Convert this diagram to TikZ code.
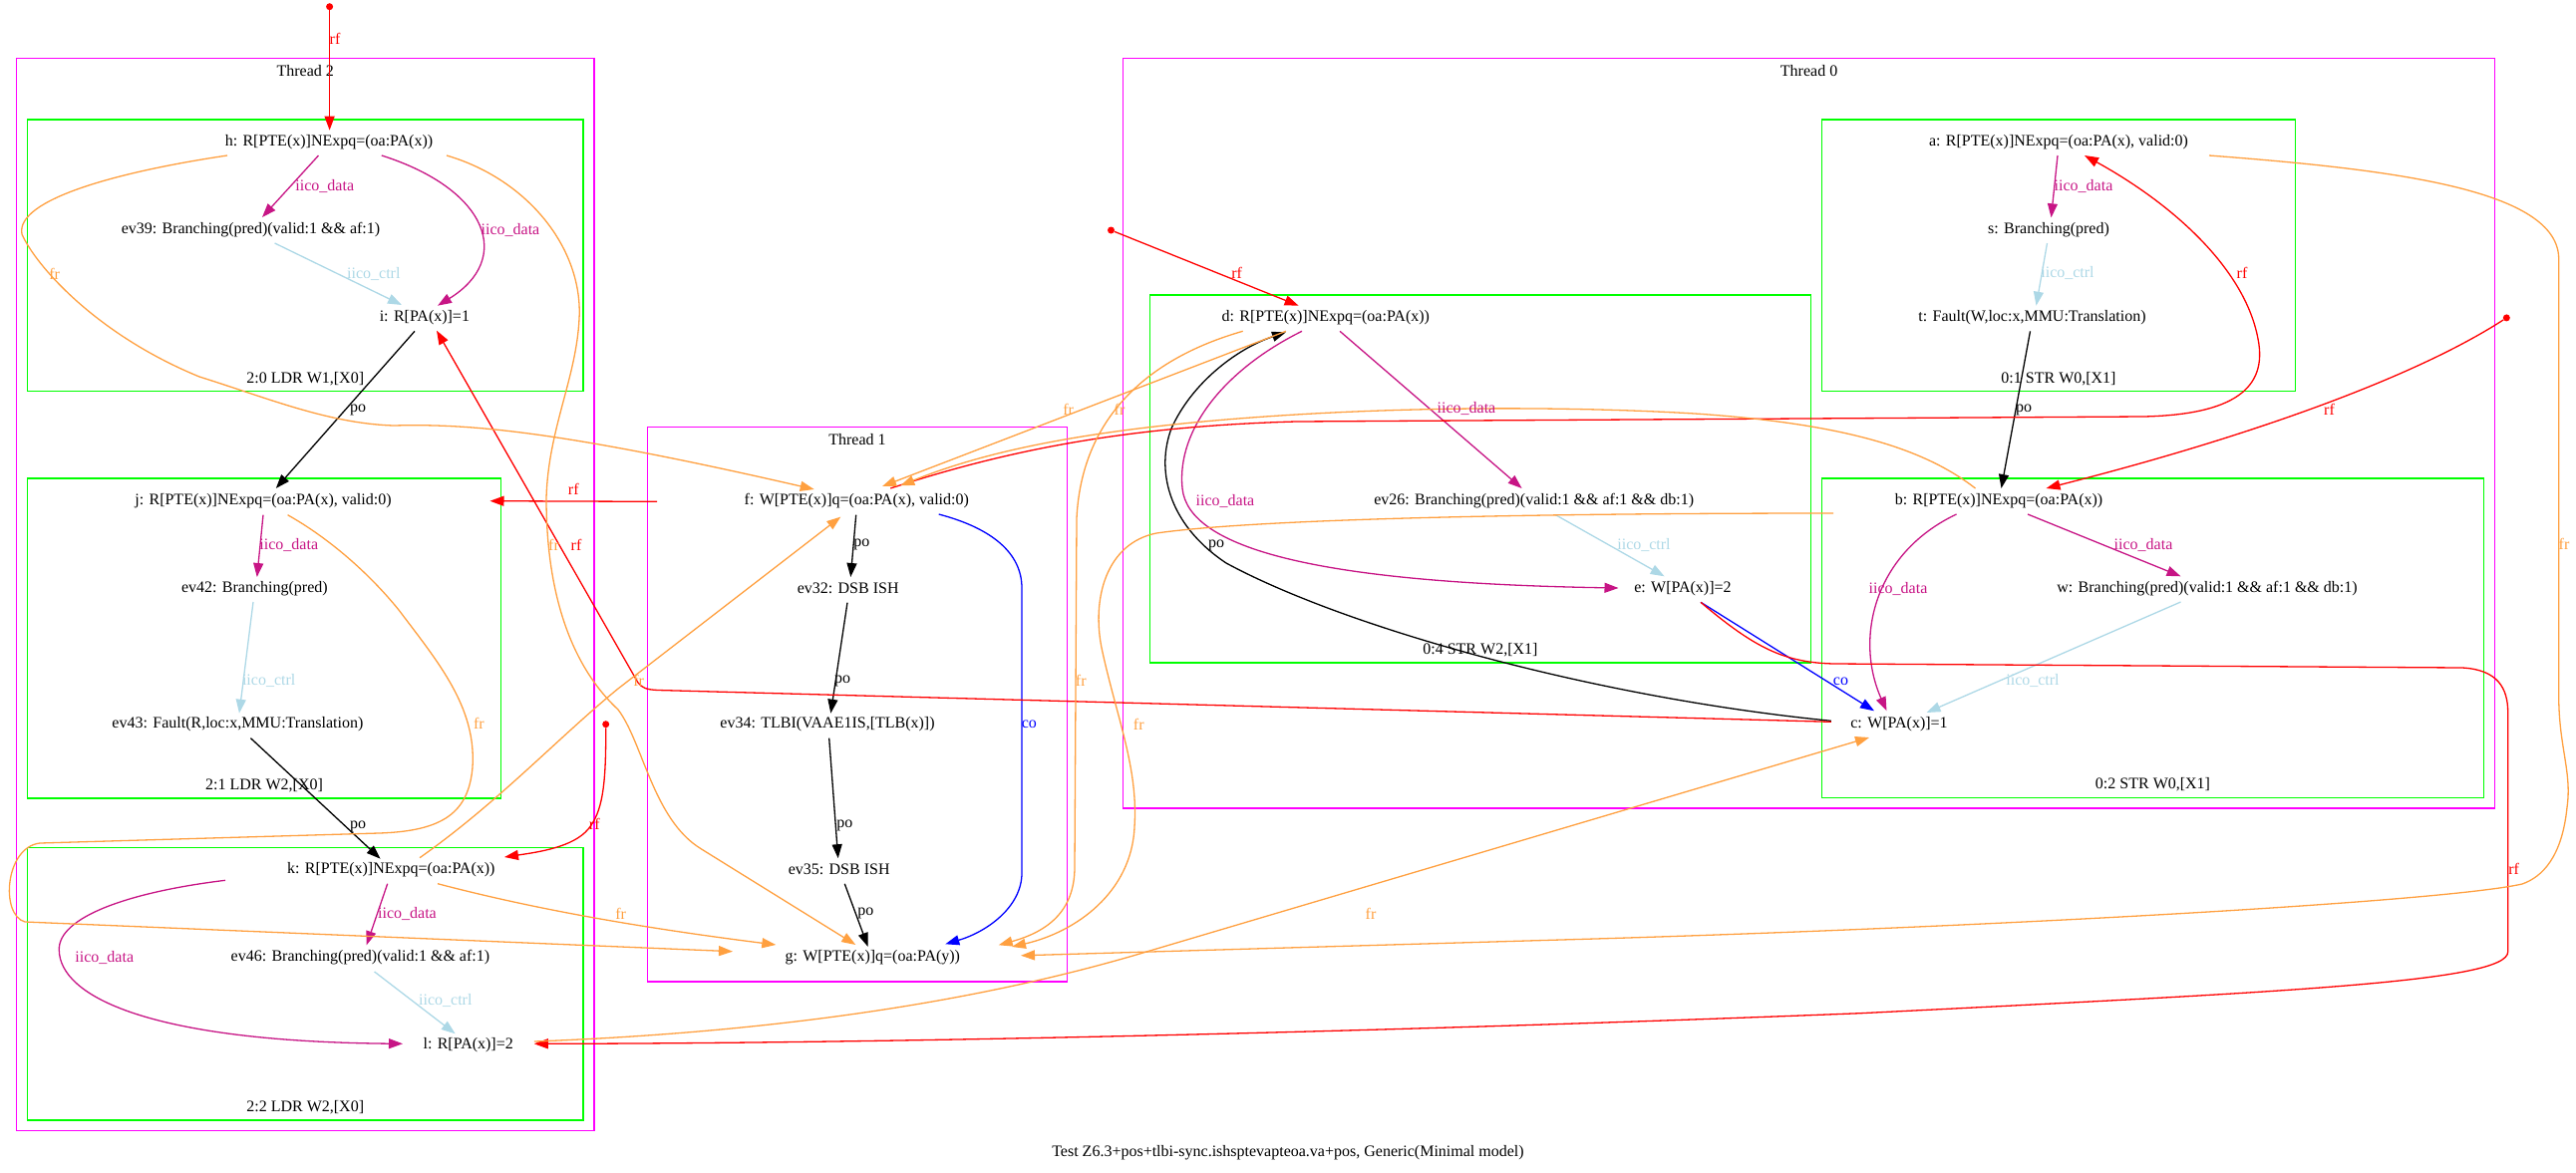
\documentclass[tikz,border=0pt]{standalone}
\usepackage{fontspec}
\setmainfont{Liberation Serif}
\usetikzlibrary{arrows.meta}

\definecolor{frc}{RGB}{255,160,64}
\definecolor{datc}{RGB}{199,21,133}
\definecolor{ctlc}{RGB}{173,216,230}
\definecolor{thrc}{RGB}{255,0,255}
\definecolor{insc}{RGB}{0,255,0}

\tikzset{
  ev/.style={inner sep=0pt, font=\fontsize{16}{19}\selectfont},
  elab/.style={inner sep=0pt, font=\fontsize{16}{19}\selectfont},
  conn/.style={line width=1.3pt, -{Triangle[length=14pt,width=10pt]}},
  rfe/.style={conn, red},
  fre/.style={conn, frc},
  datae/.style={conn, datc},
  ctrle/.style={conn, ctlc},
  poe/.style={conn, black},
  coe/.style={conn, blue},
  threadbox/.style={draw=thrc, line width=1.3pt},
  instrbox/.style={draw=insc, line width=1.5pt},
  initdot/.style={circle, fill=red, inner sep=0pt, minimum size=7pt},
}

\begin{document}
\begin{tikzpicture}[x=1pt,y=-1pt]
\useasboundingbox (0,0) rectangle (2584,1176);

% ---------- thread and instruction clusters ----------
\draw[threadbox] (16.6,58.3) rectangle (595.9,1134.3);
\draw[threadbox] (649.3,428.7) rectangle (1070.7,985);
\draw[threadbox] (1126.7,58.3) rectangle (2502.5,811);
\draw[instrbox] (27.3,120) rectangle (585.2,392.7);
\draw[instrbox] (27.3,480) rectangle (502.6,801);
\draw[instrbox] (27.3,850.7) rectangle (585.2,1124);
\draw[instrbox] (1827.5,120) rectangle (2302.5,392.7);
\draw[instrbox] (1153.3,296) rectangle (1816.4,665);
\draw[instrbox] (1827.5,480) rectangle (2491.5,800.7);

\node[ev] (t2) at (306.2,70.7) {Thread 2};
\node[ev] (t1) at (860,440.7) {Thread 1};
\node[ev] (t0) at (1814.6,70.7) {Thread 0};
\node[ev] (c20) at (306.2,380) {2:0 LDR W1,[X0]};
\node[ev] (c21) at (265,788) {2:1 LDR W2,[X0]};
\node[ev] (c22) at (306.2,1111) {2:2 LDR W2,[X0]};
\node[ev] (c01) at (2065,380) {0:1 STR W0,[X1]};
\node[ev] (c04) at (1484.9,652) {0:4 STR W2,[X1]};
\node[ev] (c02) at (2159.5,787.5) {0:2 STR W0,[X1]};

% ---------- events ----------
\node[ev] (h) at (330,142.7) {h: R[PTE(x)]NExpq=(oa:PA(x))};
\node[ev] (ev39) at (251.5,230.7) {ev39: Branching(pred)(valid:1 \&\& af:1)};
\node[ev] (i) at (425.9,319) {i: R[PA(x)]=1};
\node[ev] (j) at (264,502.7) {j: R[PTE(x)]NExpq=(oa:PA(x), valid:0)};
\node[ev] (ev42) at (255.4,590.7) {ev42: Branching(pred)};
\node[ev] (ev43) at (238.4,726.5) {ev43: Fault(R,loc:x,MMU:Translation)};
\node[ev] (k) at (392.3,872.7) {k: R[PTE(x)]NExpq=(oa:PA(x))};
\node[ev] (ev46) at (361.4,960.7) {ev46: Branching(pred)(valid:1 \&\& af:1)};
\node[ev] (l) at (469.7,1048.3) {l: R[PA(x)]=2};

\node[ev] (f) at (859.3,502.7) {f: W[PTE(x)]q=(oa:PA(x), valid:0)};
\node[ev] (ev32) at (850.7,590.7) {ev32: DSB ISH};
\node[ev] (ev34) at (830,726.5) {ev34: TLBI(VAAE1IS,[TLB(x)])};
\node[ev] (ev35) at (841.7,872.7) {ev35: DSB ISH};
\node[ev] (g) at (875.3,960.7) {g: W[PTE(x)]q=(oa:PA(y))};

\node[ev] (a) at (2065,142.7) {a: R[PTE(x)]NExpq=(oa:PA(x), valid:0)};
\node[ev] (s) at (2055,230.7) {s: Branching(pred)};
\node[ev] (t) at (2038.5,319) {t: Fault(W,loc:x,MMU:Translation)};
\node[ev] (d) at (1329.8,319) {d: R[PTE(x)]NExpq=(oa:PA(x))};
\node[ev] (ev26) at (1538.7,502.7) {ev26: Branching(pred)(valid:1 \&\& af:1 \&\& db:1)};
\node[ev] (e) at (1688,590.7) {e: W[PA(x)]=2};
\node[ev] (b) at (2005,502.7) {b: R[PTE(x)]NExpq=(oa:PA(x))};
\node[ev] (w) at (2214,590.7) {w: Branching(pred)(valid:1 \&\& af:1 \&\& db:1)};
\node[ev] (c) at (1905,726.5) {c: W[PA(x)]=1};

% initial-state sources
\node[initdot] (ih) at (330.6,6.7) {};
\node[initdot] (ik) at (607.7,726.7) {};
\node[initdot] (id) at (1114.5,231) {};
\node[initdot] (ib) at (2514.3,318.9) {};

\node[ev] (cap) at (1292,1157) {Test Z6.3+pos+tlbi-sync.ishsptevapteoa.va+pos, Generic(Minimal model)};

% ---------- thread 2 relations ----------
\draw[rfe] (ih) -- ([shift={(0.6,-12)}]h.center);
\draw[datae] ([shift={(-10.5,13.3)}]h.center) -- ([shift={(11.5,-12.7)}]ev39.center);
\draw[datae] ([shift={(52.8,13.3)}]h.center) .. controls (490,190) and (515,260) .. ([shift={(13.1,-12.3)}]i.center);
\draw[ctrle] ([shift={(24.1,13.3)}]ev39.center) -- ([shift={(-22.9,-13)}]i.center);
\draw[poe] ([shift={(-9.9,13.3)}]i.center) -- ([shift={(12.8,-12.7)}]j.center);
\draw[datae] ([shift={(0,14)}]j.center) -- ([shift={(2.4,-11.7)}]ev42.center);
\draw[ctrle] ([shift={(-1.4,13.3)}]ev42.center) -- ([shift={(1.6,-10.8)}]ev43.center);
\draw[poe] ([shift={(13.1,14.2)}]ev43.center) -- ([shift={(-10.7,-11)}]k.center);
\draw[rfe] (ik) .. controls (608,790) and (604,815) .. (590,832) .. controls (575,850) and (540,855) .. ([shift={(113.7,-12.7)}]k.center);
\draw[datae] ([shift={(-3.6,14)}]k.center) -- ([shift={(6.3,-12.4)}]ev46.center);
\draw[ctrle] ([shift={(14.2,14.3)}]ev46.center) -- ([shift={(-13,-11)}]l.center);
\draw[datae] ([shift={(-166.3,10.6)}]k.center) .. controls (130,895) and (58,920) .. (59.3,953.3) .. controls (60,1000) and (150,1045) .. ([shift={(-65.7,-1)}]l.center);

% ---------- thread 1 relations ----------
\draw[poe] ([shift={(-0.6,14)}]f.center) -- ([shift={(2.6,-11.7)}]ev32.center);
\draw[poe] ([shift={(-0.7,14)}]ev32.center) -- ([shift={(3.3,-10.8)}]ev34.center);
\draw[poe] ([shift={(1.7,14.1)}]ev34.center) -- ([shift={(-1,-11.5)}]ev35.center);
\draw[poe] ([shift={(5.6,14.1)}]ev35.center) -- ([shift={(-4.6,-10.7)}]g.center);
\draw[coe] ([shift={(82.4,13.3)}]f.center) .. controls (995,530) and (1025,555) .. (1025,590) -- (1025,876) .. controls (1025,910) and (990,935) .. ([shift={(73,-13.4)}]g.center);

% ---------- thread 0 relations ----------
\draw[rfe] (id) -- ([shift={(-27.2,-12.3)}]d.center);
\draw[datae] ([shift={(14.2,13.3)}]d.center) -- ([shift={(-12.1,-12.7)}]ev26.center);
\draw[datae] ([shift={(-23.8,13.3)}]d.center) .. controls (1230,370) and (1180,430) .. (1186,490) .. controls (1192,550) and (1320,585) .. ([shift={(-64.5,-0.7)}]e.center);
\draw[ctrle] ([shift={(21.8,14)}]ev26.center) -- ([shift={(-18.4,-12.4)}]e.center);
\draw[poe] ([shift={(-68.2,-3.2)}]c.center) .. controls (1600,700) and (1350,630) .. (1230,565) .. controls (1170,525) and (1160,470) .. (1175,430) .. controls (1195,385) and (1240,350) .. ([shift={(-39.8,14.3)}]d.center);
\draw[coe] ([shift={(18,13.6)}]e.center) -- ([shift={(-25,-13.2)}]c.center);
\draw[datae] ([shift={(-1,13.3)}]a.center) -- ([shift={(2.5,-12.4)}]s.center);
\draw[ctrle] ([shift={(-1.5,13.3)}]s.center) -- ([shift={(4,-12.3)}]t.center);
\draw[poe] ([shift={(-2,13.3)}]t.center) -- ([shift={(2.5,-12.7)}]b.center);
\draw[rfe] (ib) .. controls (2420,380) and (2250,440) .. ([shift={(47.5,-12.7)}]b.center);
\draw[datae] ([shift={(29,13.3)}]b.center) -- ([shift={(-26.5,-12.4)}]w.center);
\draw[datae] ([shift={(-42.5,13.3)}]b.center) .. controls (1880,555) and (1860,640) .. ([shift={(-12.5,-13.2)}]c.center);
\draw[ctrle] ([shift={(-26.5,13.3)}]w.center) -- ([shift={(27.5,-11.5)}]c.center);

% ---------- inter-thread reads-from ----------
\draw[rfe] ([shift={(-200.3,0.6)}]f.center) -- ([shift={(227.5,0)}]j.center);
\draw[rfe] ([shift={(-68.2,-2.2)}]c.center) -- (660,692.5) .. controls (648,692) and (644,690) .. (640,685) -- ([shift={(12.1,12.7)}]i.center);
\draw[rfe] ([shift={(34,-12.7)}]f.center) .. controls (1000,455) and (1120,428) .. (1300,423) -- (2150,418) .. controls (2240,416) and (2275,390) .. (2265,340) .. controls (2252,270) and (2180,205) .. ([shift={(26,13.3)}]a.center);
\draw[rfe] ([shift={(18,13.6)}]e.center) .. controls (1760,650) and (1790,665) .. (1840,666) -- (2470,670) .. controls (2505,672) and (2515.7,690) .. (2515.7,715) -- (2515.7,955) .. controls (2515.7,985) and (2300,995) .. (1866,1016.7) .. controls (1400,1035) and (900,1047) .. ([shift={(66.1,-1)}]l.center);

% ---------- from-reads ----------
\draw[fre] ([shift={(-102,13.3)}]h.center) .. controls (120,172) and (15,200) .. (22,235) .. controls (35,265) and (95,335) .. (200,378) .. controls (270,400) and (330,425) .. (395,427) .. controls (470,425) and (560,432) .. ([shift={(-42.6,-11.7)}]f.center);
\draw[fre] ([shift={(118,13.3)}]h.center) .. controls (530,180) and (585,250) .. (581,320) .. controls (578,380) and (550,430) .. (548,500) .. controls (548,600) and (575,670) .. (620,712) .. controls (645,745) and (655,822) .. (703,851.6) -- ([shift={(-17,-12.7)}]g.center);
\draw[fre] ([shift={(24.6,14)}]j.center) .. controls (330,540) and (370,575) .. (400,612) .. controls (440,665) and (478,710) .. (474,770) .. controls (470,815) and (445,834) .. (380,836) -- (40,846) .. controls (5,850) and (0,918) .. (25,925) -- ([shift={(-140.3,-6)}]g.center);
\draw[fre] ([shift={(28.7,-12)}]k.center) .. controls (500,805) and (560,740) .. (620,691) -- ([shift={(-16,15.9)}]f.center);
\draw[fre] ([shift={(46.7,14)}]k.center) .. controls (520,908) and (620,928) .. ([shift={(-97,-12.7)}]g.center);
\draw[fre] ([shift={(-39.8,13.3)}]d.center) -- ([shift={(25.7,-14.7)}]f.center);
\draw[fre] ([shift={(-83.1,13.3)}]d.center) .. controls (1150,360) and (1085,420) .. (1080,520) -- (1078,870) .. controls (1078,915) and (1050,935) .. ([shift={(126.4,-12.4)}]g.center);
\draw[fre] ([shift={(-23.5,-12.7)}]b.center) .. controls (1930,450) and (1850,425) .. (1700,415) .. controls (1600,409) and (1450,407) .. (1300,416) .. controls (1100,428) and (990,452) .. ([shift={(44,-15.4)}]f.center);
\draw[fre] ([shift={(-166,12.3)}]b.center) .. controls (1500,515) and (1250,522) .. (1160,535) .. controls (1110,545) and (1095,600) .. (1105,650) .. controls (1120,720) and (1142,770) .. (1138,830) .. controls (1135,895) and (1080,935) .. ([shift={(139.7,-10.7)}]g.center);
\draw[fre] ([shift={(151,13.3)}]a.center) .. controls (2400,170) and (2566.7,190) .. (2566.7,260) -- (2566.7,700) .. controls (2567,750) and (2580,775) .. (2575,810) .. controls (2570,860) and (2550,880) .. (2530,887) .. controls (2450,905) and (2000,930) .. (1600,942) -- ([shift={(148.7,-1.9)}]g.center);
\draw[fre] ([shift={(66.1,-3.3)}]l.center) .. controls (800,1035) and (1000,1000) .. (1150,955) -- ([shift={(-30,13.5)}]c.center);

% ---------- relation labels ----------
\node[elab, red] (lb1) at (336,39) {rf};
\node[elab, datc] (lb2) at (325.8,186.7) {iico\_data};
\node[elab, datc] (lb3) at (512,230.7) {iico\_data};
\node[elab, ctlc] (lb4) at (374.8,275) {iico\_ctrl};
\node[elab] (lb5) at (359,411) {po};
\node[elab, datc] (lb6) at (289.8,546.7) {iico\_data};
\node[elab, ctlc] (lb7) at (269.7,682.7) {iico\_ctrl};
\node[elab] (lb8) at (359,829) {po};
\node[elab, red] (lb9) at (596.3,827.3) {rf};
\node[elab, datc] (lb10) at (408.5,916.7) {iico\_data};
\node[elab, ctlc] (lb11) at (446.8,1004.3) {iico\_ctrl};
\node[elab, datc] (lb12) at (104.8,960.7) {iico\_data};
\node[elab, red] (lb13) at (578,546.7) {rf};
\node[elab, red] (lb14) at (575.3,490.7) {rf};
\node[elab, frc] (lb15) at (54.6,275) {fr};
\node[elab, frc] (lb16) at (555.5,546.7) {fr};
\node[elab, frc] (lb17) at (480.4,726) {fr};
\node[elab, frc] (lb18) at (640.7,683.2) {fr};
\node[elab, frc] (lb19) at (622.7,916.6) {fr};
\node[elab] (lb21) at (864.3,546.6) {po};
\node[elab] (lb22) at (845,683.2) {po};
\node[elab] (lb23) at (847.3,828.6) {po};
\node[elab] (lb24) at (868.3,916.6) {po};
\node[elab, blue] (lb25) at (1032.3,726.4) {co};
\node[elab, red] (lb26) at (1240.6,274.3) {rf};
\node[elab, datc] (lb27) at (1471,410) {iico\_data};
\node[elab, datc] (lb28) at (1229,502.7) {iico\_data};
\node[elab, ctlc] (lb29) at (1649,546.7) {iico\_ctrl};
\node[elab] (lb30) at (1220,547.3) {po};
\node[elab, blue] (lb31) at (1846.5,683.3) {co};
\node[elab, red] (lb32) at (2521.7,871.7) {rf};
\node[elab, frc] (lb33) at (1375,916.7) {fr};
\node[elab, datc] (lb34) at (2090,186.7) {iico\_data};
\node[elab, ctlc] (lb35) at (2074,274.3) {iico\_ctrl};
\node[elab] (lb36) at (2030,411) {po};
\node[elab, red] (lb37) at (2336.5,410.5) {rf};
\node[elab, datc] (lb38) at (2150,546.7) {iico\_data};
\node[elab, datc] (lb39) at (1904,590.7) {iico\_data};
\node[elab, ctlc] (lb40) at (2039,682.7) {iico\_ctrl};
\node[elab, red] (lb41) at (2249,274.3) {rf};
\node[elab, frc] (lb42) at (1123,411) {fr};
\node[elab, frc] (lb43) at (1142.3,726.7) {fr};
\node[elab, frc] (lb44) at (1071.7,411) {fr};
\node[elab, frc] (lb45) at (1084.3,682.7) {fr};
\node[elab, frc] (lb46) at (2572,545.6) {fr};
\end{tikzpicture}
\end{document}
